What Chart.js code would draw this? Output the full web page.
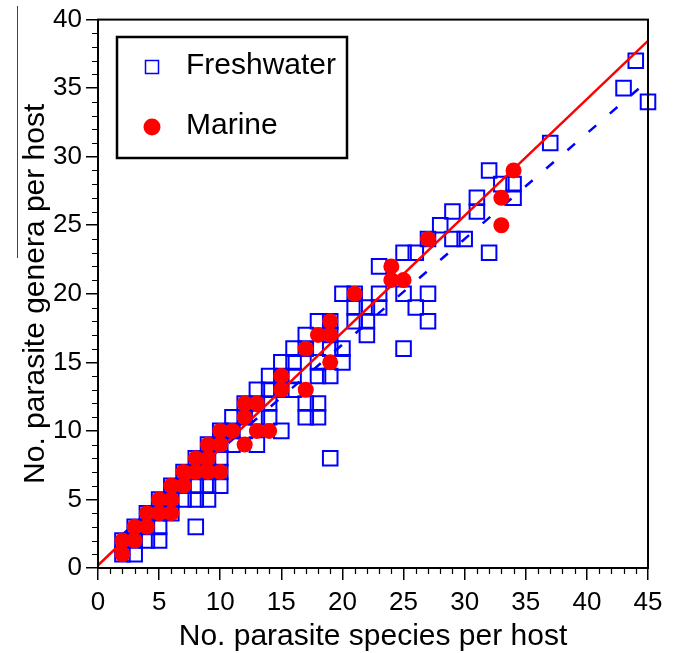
<!DOCTYPE html>
<html>
<head>
<meta charset="utf-8">
<script src="https://cdn.jsdelivr.net/npm/chart.js@4.4.0/dist/chart.umd.min.js"></script>
<style>
html,body{margin:0;padding:0;background:#fff;}
#wrap{width:674px;height:653px;}
</style>
</head>
<body>
<div id="wrap"><canvas id="chart" width="674" height="653"></canvas></div>
<script>
// ----- DATA -----
const freshX = [2,3,2,3,4,5,3,4,5,8,4,5,6,5,6,7,8,9,6,7,8,9,10,7,8,9,10,8,9,10,19,9,10,11,13,10,11,12,15,11,12,13,14,17,18,12,13,14,17,18,13,14,15,16,14,15,16,18,19,15,16,18,20,16,17,19,20,25,17,19,22,18,19,21,22,27,21,22,23,26,20,21,23,25,27,23,25,26,27,29,30,28,29,31,31,34,33,34,32,32,37,43,44,45];
const freshY = [1,1,2,2,2,2,3,3,3,3,4,4,4,5,5,5,5,5,6,6,6,6,6,7,7,7,7,8,8,8,8,9,9,9,9,10,10,10,10,11,11,11,11,11,11,12,12,12,12,12,13,13,13,13,14,14,14,14,14,15,15,15,15,16,16,16,16,16,17,17,17,18,18,18,18,18,19,19,19,19,20,20,20,20,20,22,23,23,24,24,24,25,26,26,27,27,28,28,29,23,31,35,37,34];

const marineX = [2,2,3,3,4,4,5,5,6,6,6,7,7,8,8,9,9,9,10,10,10,11,12,12,12,13,13,14,15,15,17,17,18,19,19,19,21,24,24,25,27,33,33,34];
const marineY = [1,2,2,3,3,4,4,5,4,5,6,6,7,7,8,7,8,9,7,9,10,10,9,11,12,10,12,10,13,14,13,16,17,15,17,18,20,21,22,21,24,25,27,29];

// fitted lines: [intercept, slope] and x range drawn
const marineFit = [0.2, 0.85];
const marineRange = [0, 45];
const freshFit = [0.9, 0.77];
const freshRange = [2, 45];

const xTickStep = 5, yTickStep = 5, minorStep = 1;
const xMax = 45, yMax = 40;

const FONT = "'Liberation Sans', Arial, Helvetica, sans-serif";
Chart.defaults.font.family = FONT;
Chart.defaults.color = '#000';

function toPoints(xs, ys) {
  return xs.map((x, i) => ({x: x, y: ys[i]}));
}
function fitLine(fit, range) {
  return range.map(x => ({x: x, y: fit[0] + fit[1] * x}));
}

// ----- PLUGINS -----
const minorTicks = {
  id: 'minorTicks',
  afterDraw(chart) {
    const {ctx, chartArea: a, scales: {x, y}} = chart;
    ctx.save();
    ctx.strokeStyle = '#000';
    ctx.lineWidth = 1.2;
    ctx.beginPath();
    for (let v = 0; v <= xMax; v += minorStep) {
      if (v % xTickStep === 0) continue;
      const px = Math.round(x.getPixelForValue(v)) + 0.5;
      ctx.moveTo(px, a.bottom);
      ctx.lineTo(px, a.bottom + 6);
    }
    for (let v = 0; v <= yMax; v += minorStep) {
      if (v % yTickStep === 0) continue;
      const py = Math.round(y.getPixelForValue(v)) + 0.5;
      ctx.moveTo(a.left, py);
      ctx.lineTo(a.left - 6, py);
    }
    ctx.stroke();
    // frame round the plot
    ctx.lineWidth = 2;
    ctx.strokeRect(a.left, a.top, a.right - a.left, a.bottom - a.top);
    // stray rule left of the y title
    ctx.lineWidth = 1;
    ctx.strokeStyle = '#444';
    ctx.beginPath();
    ctx.moveTo(17.5, 6);
    ctx.lineTo(17.5, 258);
    ctx.stroke();
    ctx.restore();
  }
};

const boxLegend = {
  id: 'boxLegend',
  afterDraw(chart) {
    const ctx = chart.ctx;
    ctx.save();
    ctx.fillStyle = '#fff';
    ctx.fillRect(117, 37, 230, 121);
    ctx.strokeStyle = '#000';
    ctx.lineWidth = 2.5;
    ctx.strokeRect(117, 37, 230, 121);
    ctx.strokeStyle = '#0000ff';
    ctx.lineWidth = 1.5;
    ctx.strokeRect(145.5, 60.5, 13, 13);
    ctx.fillStyle = '#ff0000';
    ctx.beginPath();
    ctx.arc(152, 127, 8.5, 0, Math.PI * 2);
    ctx.fill();
    ctx.fillStyle = '#000';
    ctx.font = '30px ' + FONT;
    ctx.textBaseline = 'middle';
    ctx.fillText('Freshwater', 186, 66);
    ctx.fillText('Marine', 186, 126);
    ctx.restore();
  }
};

// ----- CHART -----
new Chart(document.getElementById('chart'), {
  type: 'scatter',
  data: {
    datasets: [
      {
        label: 'Freshwater',
        data: toPoints(freshX, freshY),
        pointStyle: 'rect',
        pointRadius: 10.3,
        pointBorderWidth: 2,
        pointBorderColor: '#0000ff',
        pointBackgroundColor: 'rgba(0,0,0,0)',
        clip: false,
        order: 3
      },
      {
        label: 'Freshwater fit',
        type: 'line',
        data: fitLine(freshFit, freshRange),
        borderColor: '#0000ff',
        borderWidth: 2.5,
        borderDash: [10, 18],
        pointRadius: 0,
        order: 2
      },
      {
        label: 'Marine fit',
        type: 'line',
        data: fitLine(marineFit, marineRange),
        borderColor: '#ff0000',
        borderWidth: 2.5,
        pointRadius: 0,
        order: 1
      },
      {
        label: 'Marine',
        data: toPoints(marineX, marineY),
        pointStyle: 'circle',
        pointRadius: 8,
        pointBorderWidth: 0,
        pointBackgroundColor: '#ff0000',
        pointBorderColor: '#ff0000',
        clip: false,
        order: 0
      }
    ]
  },
  options: {
    responsive: false,
    animation: false,
    devicePixelRatio: 1,
    layout: {padding: {top: 18, right: 26, left: 0, bottom: 0}},
    plugins: {legend: {display: false}, tooltip: {enabled: false}},
    scales: {
      x: {
        type: 'linear', min: 0, max: xMax,
        border: {color: '#000', width: 2},
        grid: {drawOnChartArea: false, color: '#000', tickLength: 12, lineWidth: 1.5},
        ticks: {stepSize: xTickStep, font: {size: 26}, padding: 7, maxRotation: 0},
        title: {display: true, text: 'No. parasite species per host', font: {size: 30}, padding: {top: 0, bottom: -2}},
        afterFit: s => { s.height = 85; }
      },
      y: {
        type: 'linear', min: 0, max: yMax,
        border: {color: '#000', width: 2},
        grid: {drawOnChartArea: false, color: '#000', tickLength: 12, lineWidth: 1.5},
        ticks: {stepSize: yTickStep, font: {size: 26}, padding: 4},
        title: {display: true, text: 'No. parasite genera per host', font: {size: 30}, padding: {top: 18, bottom: 0}},
        afterFit: s => { s.width = 98; }
      }
    }
  },
  plugins: [minorTicks, boxLegend]
});
</script>
</body>
</html>
